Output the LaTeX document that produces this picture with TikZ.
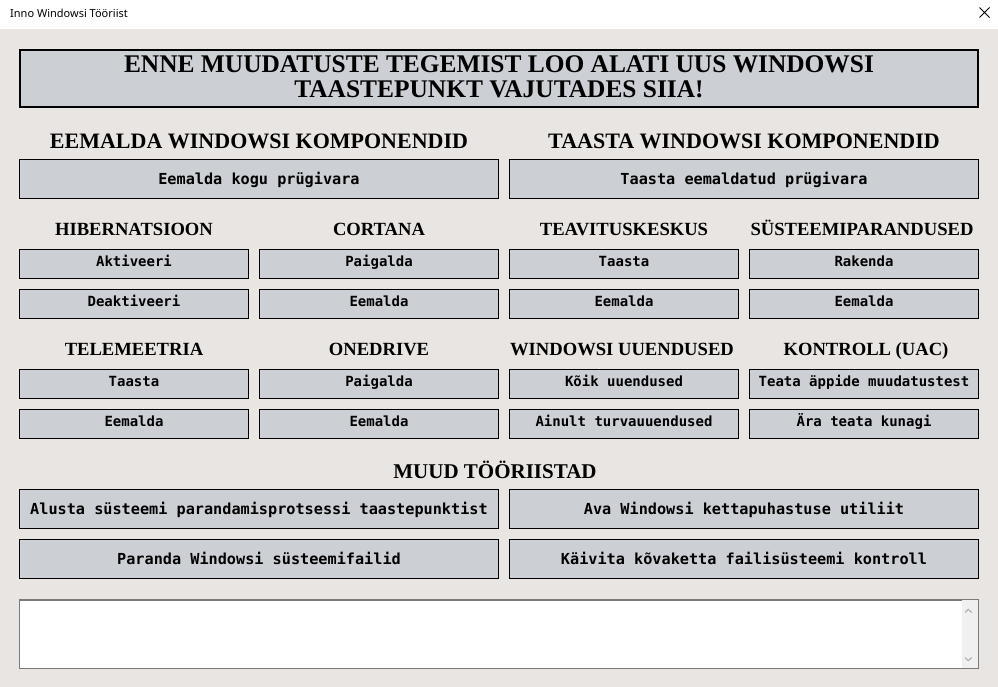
\documentclass[tikz,border=0pt]{standalone}
\usepackage{fontspec}
\setmainfont{Liberation Serif}
\newfontfamily\monofont{DejaVu Sans Mono}
\newfontfamily\uifont{Noto Sans}
\definecolor{formbg}{RGB}{233,229,226}
\definecolor{btnfill}{RGB}{204,207,212}
\definecolor{boxline}{RGB}{122,122,122}
\definecolor{barfill}{RGB}{240,240,240}
\definecolor{arrowgray}{RGB}{170,170,170}

\begin{document}
\begin{tikzpicture}[x=1pt,y=-1pt,
    btn/.style={draw=black,fill=btnfill,line width=1pt,inner sep=0pt,minimum height=28.4pt,
        font=\monofont\bfseries\fontsize{14}{14}\selectfont,text height=10.2pt,text depth=4.6pt},
    bigbtn/.style={btn,minimum height=38.4pt,
        font=\monofont\bfseries\fontsize{15.2}{15.2}\selectfont,text height=11pt,text depth=0pt},
    head/.style={anchor=base,inner sep=0pt,font=\bfseries\fontsize{18.6}{18.6}\selectfont},
    bighead/.style={head,font=\bfseries\fontsize{22}{22}\selectfont}]
    \useasboundingbox (0,0) rectangle (998,687);
    \fill[white] (0,0) rectangle (998,29);
    \fill[formbg] (0,29) rectangle (998,687);
    \node[anchor=base west,inner sep=0pt,font=\uifont\fontsize{11}{11}\selectfont] (title) at (10,17.3) {Inno Windowsi Tööriist};
    \draw[line width=0.8pt] (979.5,7.5) -- (989.5,17.5) (989.5,7.5) -- (979.5,17.5);

    \node[draw=black,fill=btnfill,line width=2pt,inner sep=0pt,minimum width=957.4pt,minimum height=57pt,
        align=center,text depth=3.6pt,font=\bfseries\fontsize{25.4}{25}\selectfont] (banner) at (499,78.8)
        {ENNE MUUDATUSTE TEGEMIST LOO ALATI UUS WINDOWSI\\TAASTEPUNKT VAJUTADES SIIA!};

    \node[bighead] (remHead) at (259,148.3) {EEMALDA WINDOWSI KOMPONENDID};
    \node[bighead] (resHead) at (744,148.3) {TAASTA WINDOWSI KOMPONENDID};
    \node[bigbtn,minimum width=478.4pt] (remAll) at (259,179) {Eemalda kogu prügivara};
    \node[bigbtn,minimum width=468.4pt] (resAll) at (744,179) {Taasta eemaldatud prügivara};

    \node[head] (hibHead) at (134,235) {HIBERNATSIOON};
    \node[head] (corHead) at (379,235) {CORTANA};
    \node[head] (notHead) at (624,235) {TEAVITUSKESKUS};
    \node[head] (fixHead) at (862,235) {SÜSTEEMIPARANDUSED};
    \node[btn,minimum width=228.4pt] (hibOn) at (134,264) {Aktiveeri};
    \node[btn,minimum width=228.4pt] (hibOff) at (134,304) {Deaktiveeri};
    \node[btn,minimum width=238.4pt] (corAdd) at (379,264) {Paigalda};
    \node[btn,minimum width=238.4pt] (corDel) at (379,304) {Eemalda};
    \node[btn,minimum width=228.4pt] (notAdd) at (624,264) {Taasta};
    \node[btn,minimum width=228.4pt] (notDel) at (624,304) {Eemalda};
    \node[btn,minimum width=228.4pt] (fixAdd) at (864,264) {Rakenda};
    \node[btn,minimum width=228.4pt] (fixDel) at (864,304) {Eemalda};

    \node[head] (telHead) at (134,355.7) {TELEMEETRIA};
    \node[head] (odHead) at (379,355.7) {ONEDRIVE};
    \node[head] (updHead) at (622,355.7) {WINDOWSI UUENDUSED};
    \node[head] (uacHead) at (866,355.7) {KONTROLL (UAC)};
    \node[btn,minimum width=228.4pt] (telAdd) at (134,384) {Taasta};
    \node[btn,minimum width=228.4pt] (telDel) at (134,424) {Eemalda};
    \node[btn,minimum width=238.4pt] (odAdd) at (379,384) {Paigalda};
    \node[btn,minimum width=238.4pt] (odDel) at (379,424) {Eemalda};
    \node[btn,minimum width=228.4pt] (updAll) at (624,384) {Kõik uuendused};
    \node[btn,minimum width=228.4pt] (updSec) at (624,424) {Ainult turvauuendused};
    \node[btn,minimum width=228.4pt] (uacOn) at (864,384) {Teata äppide muudatustest};
    \node[btn,minimum width=228.4pt] (uacOff) at (864,424) {Ära teata kunagi};

    \node[head,font=\bfseries\fontsize{21}{21}\selectfont] (toolHead) at (495,478.3) {MUUD TÖÖRIISTAD};
    \node[bigbtn,minimum width=478.4pt] (restore) at (259,509) {Alusta süsteemi parandamisprotsessi taastepunktist};
    \node[bigbtn,minimum width=468.4pt] (cleanup) at (744,509) {Ava Windowsi kettapuhastuse utiliit};
    \node[bigbtn,minimum width=478.4pt] (sfc) at (259,559) {Paranda Windowsi süsteemifailid};
    \node[bigbtn,minimum width=468.4pt] (chkdsk) at (744,559) {Käivita kõvaketta failisüsteemi kontroll};

    \node[draw=boxline,fill=white,line width=1.2pt,inner sep=0pt,minimum width=958.8pt,minimum height=68.2pt] (log) at (499,634) {};
    \fill[barfill] ([xshift=-17.5pt,yshift=-1pt]log.north east) rectangle ([xshift=-0.6pt,yshift=1pt]log.south east);
    \draw[arrowgray,line width=1pt] (965,612.5) -- (968.3,609.3) -- (971.6,612.5);
    \draw[arrowgray,line width=1pt] (965,657.5) -- (968.3,660.7) -- (971.6,657.5);
\end{tikzpicture}
\end{document}
